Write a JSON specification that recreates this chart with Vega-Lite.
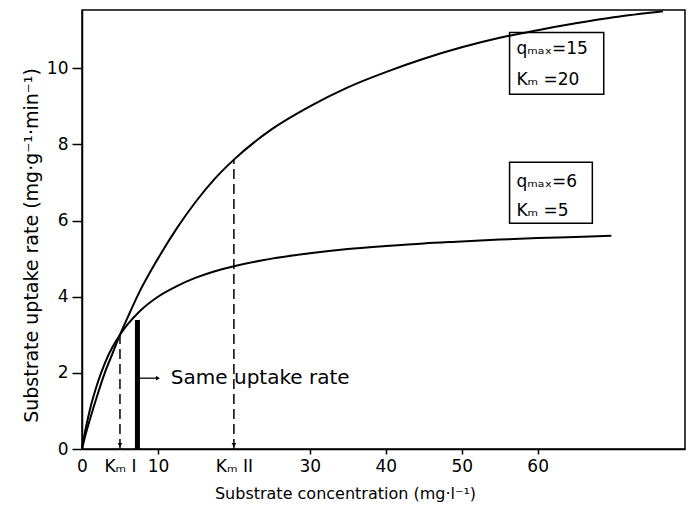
{
  "$schema": "https://vega.github.io/schema/vega-lite/v6.json",
  "width": 603,
  "height": 439,
  "autosize": {"type": "none"},
  "padding": {"left": 82, "top": 10, "right": 3, "bottom": 67},
  "background": "white",
  "config": {
    "view": {"stroke": "black", "strokeWidth": 1.5},
    "font": "DejaVu Sans",
    "axis": {"domainColor": "black", "tickColor": "black", "labelColor": "black", "titleColor": "black", "labelFont": "DejaVu Sans", "titleFont": "DejaVu Sans", "labelFontSize": 17, "titleFontSize": 16, "titleFontWeight": "normal", "grid": false, "domainWidth": 1.5, "tickWidth": 1.5}
  },
  "datasets": {
    "curves": [
      {"S": 0, "rate": 0, "curve": "qmax=15, Km=20"},
      {"S": 0.5, "rate": 0.4, "curve": "qmax=15, Km=20"},
      {"S": 1, "rate": 0.75, "curve": "qmax=15, Km=20"},
      {"S": 2, "rate": 1.4, "curve": "qmax=15, Km=20"},
      {"S": 3, "rate": 2.0, "curve": "qmax=15, Km=20"},
      {"S": 4, "rate": 2.5, "curve": "qmax=15, Km=20"},
      {"S": 5, "rate": 3.0, "curve": "qmax=15, Km=20"},
      {"S": 6, "rate": 3.45, "curve": "qmax=15, Km=20"},
      {"S": 7.5, "rate": 4.1, "curve": "qmax=15, Km=20"},
      {"S": 10, "rate": 5.0, "curve": "qmax=15, Km=20"},
      {"S": 12.5, "rate": 5.8, "curve": "qmax=15, Km=20"},
      {"S": 15, "rate": 6.5, "curve": "qmax=15, Km=20"},
      {"S": 17.5, "rate": 7.1, "curve": "qmax=15, Km=20"},
      {"S": 20, "rate": 7.6, "curve": "qmax=15, Km=20"},
      {"S": 25, "rate": 8.4, "curve": "qmax=15, Km=20"},
      {"S": 30, "rate": 9.0, "curve": "qmax=15, Km=20"},
      {"S": 35, "rate": 9.5, "curve": "qmax=15, Km=20"},
      {"S": 40, "rate": 9.9, "curve": "qmax=15, Km=20"},
      {"S": 45, "rate": 10.25, "curve": "qmax=15, Km=20"},
      {"S": 50, "rate": 10.55, "curve": "qmax=15, Km=20"},
      {"S": 55, "rate": 10.8, "curve": "qmax=15, Km=20"},
      {"S": 60, "rate": 11.0, "curve": "qmax=15, Km=20"},
      {"S": 65, "rate": 11.18, "curve": "qmax=15, Km=20"},
      {"S": 70, "rate": 11.34, "curve": "qmax=15, Km=20"},
      {"S": 76.5, "rate": 11.5, "curve": "qmax=15, Km=20"},
      {"S": 0, "rate": 0, "curve": "qmax=6, Km=5"},
      {"S": 0.5, "rate": 0.55, "curve": "qmax=6, Km=5"},
      {"S": 1, "rate": 1.0, "curve": "qmax=6, Km=5"},
      {"S": 2, "rate": 1.7, "curve": "qmax=6, Km=5"},
      {"S": 3, "rate": 2.25, "curve": "qmax=6, Km=5"},
      {"S": 4, "rate": 2.67, "curve": "qmax=6, Km=5"},
      {"S": 5, "rate": 3.0, "curve": "qmax=6, Km=5"},
      {"S": 6, "rate": 3.27, "curve": "qmax=6, Km=5"},
      {"S": 7.5, "rate": 3.6, "curve": "qmax=6, Km=5"},
      {"S": 10, "rate": 4.0, "curve": "qmax=6, Km=5"},
      {"S": 12.5, "rate": 4.28, "curve": "qmax=6, Km=5"},
      {"S": 15, "rate": 4.5, "curve": "qmax=6, Km=5"},
      {"S": 17.5, "rate": 4.67, "curve": "qmax=6, Km=5"},
      {"S": 20, "rate": 4.8, "curve": "qmax=6, Km=5"},
      {"S": 25, "rate": 5.0, "curve": "qmax=6, Km=5"},
      {"S": 30, "rate": 5.14, "curve": "qmax=6, Km=5"},
      {"S": 35, "rate": 5.25, "curve": "qmax=6, Km=5"},
      {"S": 40, "rate": 5.33, "curve": "qmax=6, Km=5"},
      {"S": 45, "rate": 5.4, "curve": "qmax=6, Km=5"},
      {"S": 50, "rate": 5.45, "curve": "qmax=6, Km=5"},
      {"S": 55, "rate": 5.5, "curve": "qmax=6, Km=5"},
      {"S": 60, "rate": 5.54, "curve": "qmax=6, Km=5"},
      {"S": 65, "rate": 5.57, "curve": "qmax=6, Km=5"},
      {"S": 69.7, "rate": 5.6, "curve": "qmax=6, Km=5"}
    ],
    "dashes": [
      {"S": 5, "top": 3.0, "base": 0},
      {"S": 20, "top": 7.6, "base": 0}
    ],
    "bar": [{"S": 7.3, "top": 3.39, "base": 0}],
    "arrow": [{"S": 7.6, "S2": 10.0, "y": 1.86}],
    "boxes": [
      {"x1": 56.3, "x2": 68.7, "y1": 9.32, "y2": 10.94},
      {"x1": 56.3, "x2": 67.2, "y1": 5.93, "y2": 7.53}
    ],
    "notes": [
      {"S": 57.2, "y": 10.5, "text": "qₘₐₓ=15", "size": 17},
      {"S": 57.2, "y": 9.7, "text": "Kₘ  =20", "size": 17},
      {"S": 57.2, "y": 7.0, "text": "qₘₐₓ=6", "size": 17},
      {"S": 57.2, "y": 6.25, "text": "Kₘ  =5", "size": 17},
      {"S": 11.7, "y": 1.86, "text": "Same uptake rate", "size": 20}
    ]
  },
  "layer": [
    {
      "data": {"name": "curves"},
      "mark": {"type": "line", "color": "black", "strokeWidth": 2, "interpolate": "monotone"},
      "encoding": {
        "x": {"field": "S", "type": "quantitative", "scale": {"domain": [0, 79.4], "nice": false},
          "axis": {
            "values": [0, 5, 10, 20, 30, 40, 50, 60],
            "labelExpr": "datum.value == 5 ? 'Kₘ I' : datum.value == 20 ? 'Kₘ II' : datum.label",
            "tickSize": 5,
            "tickOpacity": {"condition": {"test": "datum.value == 0 || datum.value == 5 || datum.value == 20", "value": 0}, "value": 1},
            "labelPadding": 4,
            "labelFlush": false,
            "title": "Substrate concentration (mg·l⁻¹)",
            "titleX": 263, "titleY": 44, "titleBaseline": "middle", "titleAnchor": null
          }},
        "y": {"field": "rate", "type": "quantitative", "scale": {"domain": [0, 11.53], "nice": false},
          "axis": {
            "values": [0, 2, 4, 6, 8, 10],
            "tickSize": 10,
            "labelPadding": 4,
            "labelFlush": false,
            "title": "Substrate uptake rate (mg·g⁻¹·min⁻¹)",
            "titleFontSize": 19,
            "titlePadding": 5,
            "titleY": 235
          }},
        "detail": {"field": "curve"}
      }
    },
    {
      "data": {"name": "dashes"},
      "mark": {"type": "rule", "color": "black", "strokeWidth": 1.5, "strokeDash": [10, 5]},
      "encoding": {
        "x": {"field": "S", "type": "quantitative"},
        "y": {"field": "base", "type": "quantitative"},
        "y2": {"field": "top"}
      }
    },
    {
      "data": {"name": "dashes"},
      "mark": {"type": "point", "shape": "triangle-down", "filled": true, "color": "black", "size": 22, "opacity": 1, "yOffset": -4},
      "encoding": {
        "x": {"field": "S", "type": "quantitative"},
        "y": {"field": "base", "type": "quantitative"}
      }
    },
    {
      "data": {"name": "bar"},
      "mark": {"type": "rule", "color": "black", "strokeWidth": 5},
      "encoding": {
        "x": {"field": "S", "type": "quantitative"},
        "y": {"field": "base", "type": "quantitative"},
        "y2": {"field": "top"}
      }
    },
    {
      "data": {"name": "arrow"},
      "mark": {"type": "rule", "color": "black", "strokeWidth": 1.3},
      "encoding": {
        "x": {"field": "S", "type": "quantitative"},
        "x2": {"field": "S2"},
        "y": {"field": "y", "type": "quantitative"}
      }
    },
    {
      "data": {"name": "arrow"},
      "mark": {"type": "point", "shape": "triangle-right", "filled": true, "color": "black", "size": 22, "opacity": 1},
      "encoding": {
        "x": {"field": "S2", "type": "quantitative"},
        "y": {"field": "y", "type": "quantitative"}
      }
    },
    {
      "data": {"name": "boxes"},
      "mark": {"type": "rect", "fill": null, "fillOpacity": 0, "stroke": "black", "strokeWidth": 1.5},
      "encoding": {
        "x": {"field": "x1", "type": "quantitative"},
        "x2": {"field": "x2"},
        "y": {"field": "y1", "type": "quantitative"},
        "y2": {"field": "y2"}
      }
    },
    {
      "data": {"name": "notes"},
      "mark": {"type": "text", "align": "left", "baseline": "middle", "color": "black", "font": "DejaVu Sans"},
      "encoding": {
        "x": {"field": "S", "type": "quantitative"},
        "y": {"field": "y", "type": "quantitative"},
        "text": {"field": "text"},
        "size": {"field": "size", "type": "quantitative", "scale": null}
      }
    }
  ]
}
